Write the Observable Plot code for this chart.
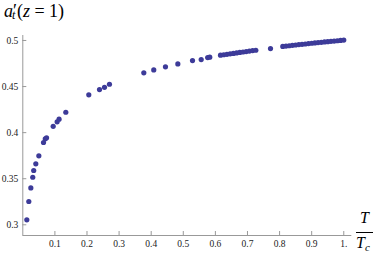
<!DOCTYPE html>
<html><head><meta charset="utf-8">
<script src="https://cdn.jsdelivr.net/npm/d3@7"></script>
<script src="https://cdn.jsdelivr.net/npm/@observablehq/plot@0.6"></script>
<style>
body{margin:0;background:#fff}
#wrap{position:relative;width:374px;height:255px}
.lab{position:absolute;font-family:'Liberation Serif','Times New Roman','DejaVu Serif',serif;font-size:16px;line-height:16px;color:#000;white-space:nowrap}
.bar{position:absolute;border-top:1px solid #000;height:0}
</style></head><body>
<div id="wrap">
  <div class="lab" style="left:4px;top:2.4px;font-size:18px;line-height:18px"><i>a</i><span style="position:relative">′<i style="position:absolute;left:-1px;top:8px;font-size:12px;line-height:12px">t</i></span>(<i>z</i> = 1)</div>
  <div class="lab" style="left:360px;top:209.6px"><i>T</i></div>
  <div class="bar" style="left:356px;top:232px;width:17px"></div>
  <div class="lab" style="left:356px;top:234.6px"><i>T</i><i style="font-size:11px;position:relative;top:3px">c</i></div>
</div>
<script>
const tRatio = [0.0125,0.0187,0.025,0.031,0.034,0.0405,0.050,0.0645,0.070,0.074,0.0947,0.107,0.113,0.134,0.2056,0.239,0.2545,0.270,0.377,0.408,0.4445,0.483,0.5287,0.5558,0.576,0.5825,
  0.616,0.626,0.636,0.646,0.656,0.666,0.676,0.686,0.696,0.706,0.716,0.726,
  0.7717,
  0.81,0.82,0.83,0.84,0.85,0.86,0.87,0.88,0.89,0.90,0.91,0.92,0.93,0.94,0.95,0.96,0.97,0.98,0.99,1.00];
const aPrime = [0.3054,0.3253,0.340,0.3516,0.3589,0.3662,0.3748,0.3893,0.3933,0.3944,0.4069,0.4117,0.4146,0.4221,0.441,0.4467,0.4492,0.4525,0.4649,0.4681,0.4714,0.4746,0.4782,0.4793,0.4815,0.4819,
  0.4840,0.4845,0.4850,0.4855,0.4860,0.4865,0.4870,0.4875,0.4880,0.4885,0.4890,0.4894,
  0.4912,
  0.4935,0.4939,0.4943,0.4947,0.4951,0.4955,0.4958,0.4962,0.4966,0.4970,0.4973,0.4977,0.4980,0.4984,0.4987,0.4991,0.4994,0.4997,0.5001,0.5004];
const xTicks = [0.1,0.2,0.3,0.4,0.5,0.6,0.7,0.8,0.9,1.0];
const xTickLabels = ["0.1","0.2","0.3","0.4","0.5","0.6","0.7","0.8","0.9","1."];
const yTicks = [0.3,0.35,0.4,0.45,0.5];
const yTickLabels = ["0.3","0.35","0.4","0.45","0.5"];
const xDomain = [0, 1.025];
const yDomain = [0.2884, 0.5054];

const data = tRatio.map((t, i) => ({t, a: aPrime[i]}));
const chart = Plot.plot({
  width: 374, height: 255,
  marginLeft: 22.3, marginRight: 22.7, marginTop: 35, marginBottom: 20,
  x: {domain: xDomain},
  y: {domain: yDomain},
  style: {fontFamily: "'Liberation Serif','Times New Roman','DejaVu Serif',serif", fontSize: "9.5px", background: "transparent", overflow: "visible"},
  marks: [
    Plot.ruleY([yDomain[0]], {stroke: "#999"}),
    Plot.ruleX([xDomain[0]], {stroke: "#999"}),
    Plot.axisX(xTicks, {tickSize: -4, tickPadding: 9, stroke: "#999", fill: "#222", fontFamily: "'Liberation Serif',serif", tickFormat: (d) => xTickLabels[xTicks.indexOf(d)], label: null}),
    Plot.axisY(yTicks, {tickSize: -4, tickPadding: 8.5, stroke: "#999", fill: "#222", fontFamily: "'Liberation Serif',serif", tickFormat: (d) => yTickLabels[yTicks.indexOf(d)], label: null}),
    Plot.dot(data, {x: "t", y: "a", r: 2.6, fill: "#3d3b99", stroke: "none"})
  ]
});
chart.style.position = "absolute";
chart.style.left = "0";
chart.style.top = "0";
document.getElementById("wrap").prepend(chart);
</script>
</body></html>
